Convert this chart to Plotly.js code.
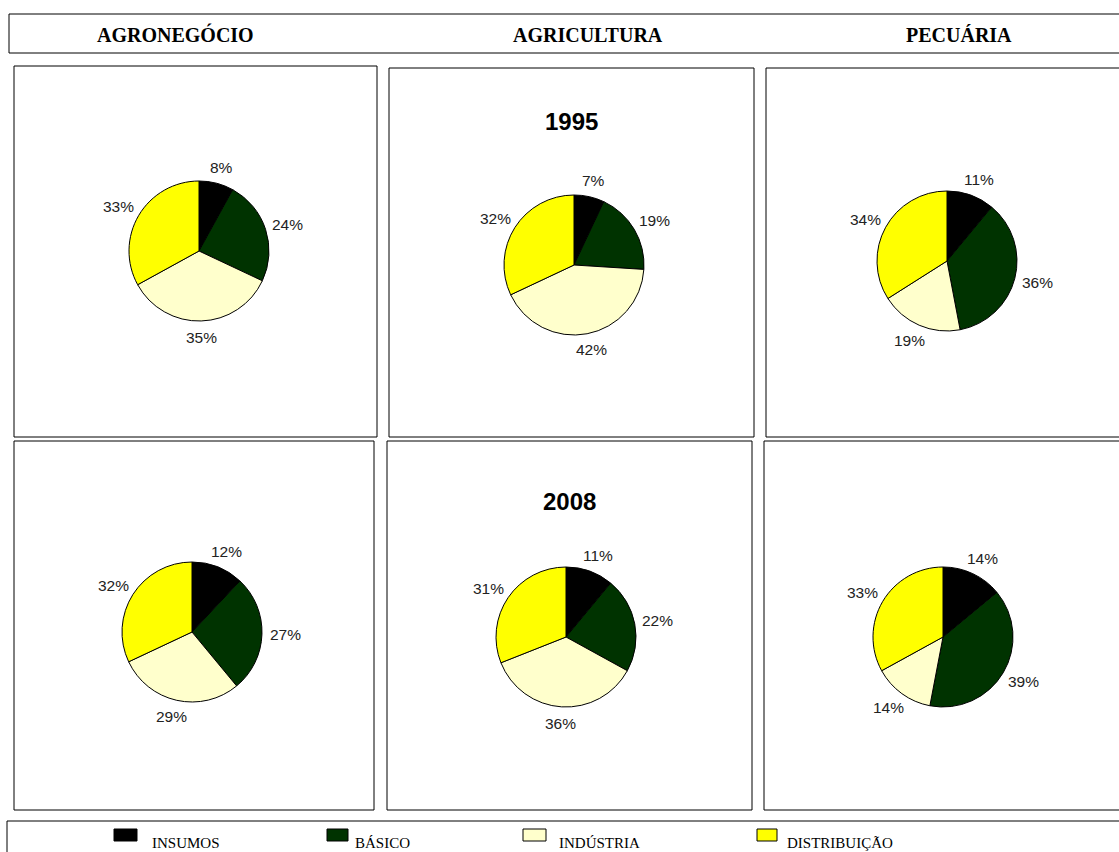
<!DOCTYPE html>
<html>
<head>
<meta charset="utf-8">
<script src="https://cdn.plot.ly/plotly-3.0.1.min.js"></script>
<style>
html,body{margin:0;padding:0;background:#fff;}
#chart{width:1119px;height:852px;}
</style>
</head>
<body>
<div id="chart"></div>
<script>
// ---- data ----
var categories = ["INSUMOS", "BÁSICO", "INDÚSTRIA", "DISTRIBUIÇÃO"];
var sectors = ["AGRONEGÓCIO", "AGRICULTURA", "PECUÁRIA"];
var years = ["1995", "2008"];
var agronegocio1995 = [8, 24, 35, 33];
var agricultura1995 = [7, 19, 42, 32];
var pecuaria1995    = [11, 36, 19, 34];
var agronegocio2008 = [12, 27, 29, 32];
var agricultura2008 = [11, 22, 36, 31];
var pecuaria2008    = [14, 39, 14, 33];

// ---- layout helpers ----
var W = 1119, H = 852;
var colors = ["#000000", "#003300", "#FFFFCC", "#FFFF00"];
function px(x){ return x / W; }
function py(y){ return 1 - y / H; }

var series = [
  {v: agronegocio1995, cx: 199, cy: 251},
  {v: agricultura1995, cx: 574, cy: 265},
  {v: pecuaria1995,    cx: 947, cy: 261},
  {v: agronegocio2008, cx: 192, cy: 632},
  {v: agricultura2008, cx: 566, cy: 637},
  {v: pecuaria2008,    cx: 943, cy: 637}
];
var R = 70;
var LABEL_FONT = 15.5;

var traces = series.map(function(s){
  return {
    type: 'pie',
    values: s.v,
    labels: categories,
    sort: false,
    direction: 'clockwise',
    rotation: 0,
    marker: {colors: colors, line: {color: '#000', width: 1}},
    textinfo: 'none',
    showlegend: false,
    hoverinfo: 'label+value',
    domain: {x: [px(s.cx - R), px(s.cx + R)], y: [py(s.cy + R), py(s.cy - R)]}
  };
});

function rect(x0, y0, x1, y1, fill, lw){
  return {type: 'rect', xref: 'paper', yref: 'paper',
    x0: px(x0), x1: px(x1), y0: py(y1), y1: py(y0),
    line: {color: '#000', width: lw || 1}, fillcolor: fill || 'rgba(0,0,0,0)'};
}

var shapes = [
  rect(9, 14, 1125, 53),
  rect(14, 66, 377, 437),
  rect(389, 68, 754, 437),
  rect(766, 68, 1125, 437),
  rect(14, 441, 374, 810),
  rect(387, 441, 752, 810),
  rect(764, 441, 1125, 810),
  rect(7, 821, 1125, 860)
];

var annotations = [];

// percentage labels placed outside each slice along its mid-angle
series.forEach(function(s){
  var total = s.v.reduce(function(a, b){ return a + b; }, 0);
  var cum = 0;
  s.v.forEach(function(val){
    var mid = (cum + val / 2) / total;
    cum += val;
    var th = 2 * Math.PI * mid;
    var dx = Math.sin(th), dy = -Math.cos(th);
    var txt = val + '%';
    var w = (txt.length - 1) * 0.556 * LABEL_FONT + 0.889 * LABEL_FONT;
    var h = LABEL_FONT * 1.1;
    var gap = R + 8;
    var lx = s.cx + dx * gap + dx * w / 2;
    var ly = s.cy + dy * gap + dy * h / 2;
    annotations.push({text: txt, xref: 'paper', yref: 'paper',
      x: px(lx), y: py(ly), xanchor: 'center', yanchor: 'middle', showarrow: false,
      font: {family: 'Liberation Sans, Arial, sans-serif', size: LABEL_FONT, color: '#222'}});
  });
});

var headerX = [175, 588, 959];
sectors.forEach(function(t, i){
  annotations.push({text: '<b>' + t + '</b>', xref: 'paper', yref: 'paper',
    x: px(headerX[i]), y: py(35), xanchor: 'center', yanchor: 'middle', showarrow: false,
    font: {family: 'Liberation Serif, Times New Roman, serif', size: 20, color: '#000'}});
});
var yearPos = [[571, 121], [569, 501]];
years.forEach(function(y, i){
  annotations.push({text: '<b>' + y + '</b>', xref: 'paper', yref: 'paper',
    x: px(yearPos[i][0]), y: py(yearPos[i][1]), xanchor: 'center', yanchor: 'middle', showarrow: false,
    font: {family: 'Liberation Sans, Arial, sans-serif', size: 24, color: '#000'}});
});

var legRect = [[114, 137], [327, 348], [523, 546], [757, 777]];
var legText = [150, 353, 557, 785];
categories.forEach(function(c, i){
  shapes.push(rect(legRect[i][0], 829, legRect[i][1], 841, colors[i], 1));
  annotations.push({text: c, xref: 'paper', yref: 'paper',
    x: px(legText[i]), y: py(843), xanchor: 'left', yanchor: 'middle', showarrow: false,
    font: {family: 'Liberation Serif, Times New Roman, serif', size: 15, color: '#000'}});
});

var layout = {
  width: W, height: H,
  margin: {l: 0, r: 0, t: 0, b: 0},
  paper_bgcolor: '#fff',
  plot_bgcolor: '#fff',
  showlegend: false,
  shapes: shapes,
  annotations: annotations
};

Plotly.newPlot('chart', traces, layout, {displayModeBar: false, staticPlot: true});
</script>
</body>
</html>
